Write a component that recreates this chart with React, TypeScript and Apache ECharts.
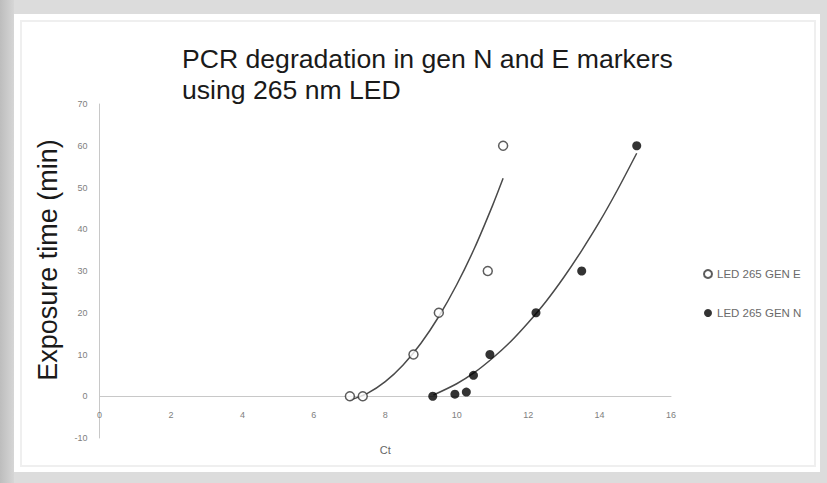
import React, { useEffect, useRef } from "react";
import * as echarts from "echarts";

// Scatter data (Ct vs exposure time)
const genEX = [7.01, 7.37, 8.79, 9.5, 10.87, 11.3];
const genEY = [0, 0, 10, 20, 30, 60];
const genNX = [9.33, 9.95, 10.27, 10.47, 10.93, 12.22, 13.5, 15.04];
const genNY = [0, 0.5, 1, 5, 10, 20, 30, 60];

// Trend lines
const trendEX = [7.01, 7.5, 8.0, 8.5, 9.0, 9.5, 10.0, 10.5, 11.0, 11.3];
const trendEY = [-0.9, 0.7, 3.5, 7.5, 12.7, 19.1, 26.7, 35.5, 45.6, 52.2];
const trendNX = [9.35, 10.0, 10.5, 11.0, 11.5, 12.0, 12.5, 13.0, 13.5, 14.0, 14.5, 15.04];
const trendNY = [0.3, 3.0, 5.7, 9.1, 13.0, 17.6, 22.7, 28.5, 34.9, 41.8, 49.4, 58.2];

const seriesNames = ["LED 265 GEN E", "LED 265 GEN N"];
const xRange = [0, 16, 2];
const yRange = [-10, 70, 10];
const titleLines = ["PCR degradation in gen N and E markers", "using 265 nm LED"];
const xName = "Ct";
const yName = "Exposure time (min)";

const zip = (xs: number[], ys: number[]) => xs.map((x, i) => [x, ys[i]]);

export default function App() {
  const ref = useRef<HTMLDivElement>(null);
  useEffect(() => {
    document.body.style.margin = "0";
    const chart = echarts.init(ref.current!, undefined, { renderer: "svg" });
    const font = "'Liberation Sans', Arial, sans-serif";
    chart.setOption({
      animation: false,
      backgroundColor: "#dcdcdc",
      textStyle: { fontFamily: font },
      graphic: [
        {
          type: "rect",
          shape: { x: 0, y: 0, width: 14, height: 483 },
          style: {
            fill: new echarts.graphic.LinearGradient(0, 0, 1, 0, [
              { offset: 0, color: "#bdbdbd" },
              { offset: 1, color: "#d6d6d6" },
            ]),
          },
          z: -10,
        },
        {
          type: "rect",
          shape: { x: 14, y: 14, width: 806, height: 458 },
          style: { fill: "#ffffff" },
          z: -9,
        },
        {
          type: "rect",
          shape: { x: 21, y: 21, width: 794, height: 445 },
          style: { fill: "none", stroke: "#efefef", lineWidth: 2 },
          z: -8,
        },
        {
          type: "text",
          x: 48,
          y: 260,
          rotation: Math.PI / 2,
          style: {
            text: yName,
            fontSize: 27,
            fontFamily: font,
            fill: "#1a1a1a",
            align: "center",
            verticalAlign: "middle",
          },
        },
      ],
      title: {
        text: titleLines.join("\n"),
        left: 182,
        top: 43,
        padding: 0,
        textStyle: {
          fontSize: 26.6,
          lineHeight: 31,
          fontWeight: "normal",
          fontFamily: font,
          color: "#1a1a1a",
        },
      },
      legend: {
        data: seriesNames,
        orient: "vertical",
        left: 698,
        top: 263,
        itemWidth: 8,
        itemHeight: 8,
        itemGap: 27,
        icon: "circle",
        textStyle: { fontSize: 11.5, color: "#6a6a6a", fontFamily: font },
      },
      grid: {
        left: 99.5,
        right: 156,
        top: 104,
        bottom: 45,
        containLabel: false,
        outerBoundsMode: "none",
      },
      xAxis: {
        type: "value",
        min: xRange[0],
        max: xRange[1],
        interval: xRange[2],
        name: xName,
        nameLocation: "middle",
        nameGap: 6,
        nameTextStyle: { fontSize: 11, color: "#666" },
        axisLine: { onZero: true, lineStyle: { color: "#c8c8c8", width: 1 } },
        axisTick: { show: false },
        axisLabel: { fontSize: 9, color: "#808080", margin: -28 },
        splitLine: { show: false },
      },
      yAxis: {
        type: "value",
        min: yRange[0],
        max: yRange[1],
        interval: yRange[2],
        axisLine: { show: true, onZero: false, lineStyle: { color: "#c8c8c8", width: 1 } },
        axisTick: { show: false },
        axisLabel: { fontSize: 9, color: "#808080", margin: 12 },
        splitLine: { show: false },
      },
      series: [
        {
          name: "trendE",
          type: "line",
          data: zip(trendEX, trendEY),
          showSymbol: false,
          smooth: 0.3,
          silent: true,
          lineStyle: { color: "#4a4a4a", width: 1.5 },
          z: 2,
        },
        {
          name: "trendN",
          type: "line",
          data: zip(trendNX, trendNY),
          showSymbol: false,
          smooth: 0.3,
          silent: true,
          lineStyle: { color: "#4a4a4a", width: 1.5 },
          z: 2,
        },
        {
          name: seriesNames[0],
          type: "scatter",
          data: zip(genEX, genEY),
          symbol: "circle",
          symbolSize: 9,
          itemStyle: { color: "#ffffff", borderColor: "#333", borderWidth: 1.5 },
          z: 3,
        },
        {
          name: seriesNames[1],
          type: "scatter",
          data: zip(genNX, genNY),
          symbol: "circle",
          symbolSize: 9,
          itemStyle: { color: "#000000" },
          z: 3,
        },
      ],
    });
    return () => chart.dispose();
  }, []);
  return (
    <div
      ref={ref}
      style={{ position: "absolute", left: 0, top: 0, width: 827, height: 483 }}
    />
  );
}
